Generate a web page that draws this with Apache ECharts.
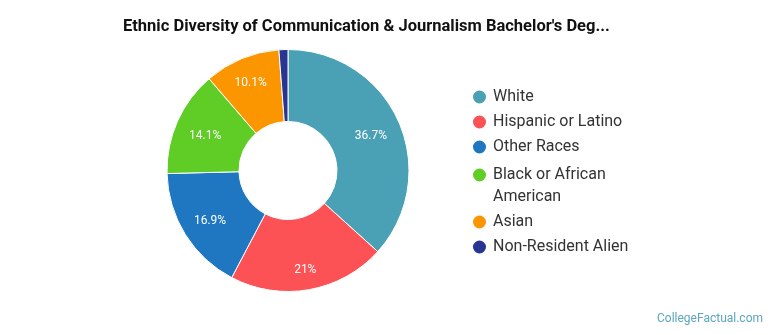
<!DOCTYPE html>
<html>
<head>
<meta charset="utf-8">
<script src="https://cdn.jsdelivr.net/npm/echarts@6/dist/echarts.min.js"></script>
<style>
  html, body { margin: 0; padding: 0; background: #fff; }
  #chart { width: 770px; height: 335px; }
</style>
</head>
<body>
<div id="chart"></div>
<script>
// Ethnic breakdown of bachelor's degree recipients (percent)
const categories = ['White', 'Hispanic or Latino', 'Other Races', 'Black or African American', 'Asian', 'Non-Resident Alien'];
const shares = [36.7, 21, 16.9, 14.1, 10.1, 1.2];
const percentLabels = ['36.7%', '21%', '16.9%', '14.1%', '10.1%', ''];
// legend wording; a leading blank line keeps a wrapped label's first line level with its icon
const legendNames = ['White', 'Hispanic or Latino', 'Other Races', '\nBlack or African\nAmerican', 'Asian', 'Non-Resident Alien'];
const sliceColors = ['#4aa0b5', '#fd5255', '#1f76c1', '#5fcd26', '#fb9500', '#283593'];

const CX = 288, CY = 170.5;

const chart = echarts.init(document.getElementById('chart'), null, { renderer: 'canvas' });

const pieData = categories.map((name, i) => ({
  name: name,
  value: shares[i],
  label: { formatter: percentLabels[i] }
}));

const legendText = {
  fontFamily: 'Roboto', fontSize: 16, color: '#333', lineHeight: 22
};

const legendItems = (from, to) => categories.slice(from, to).map(name => ({ name: name, icon: 'circle' }));
const legendLabel = name => legendNames[categories.indexOf(name)];

function legendBlock(top, from, to) {
  return {
    orient: 'vertical', left: 471, top: top, padding: 0, itemGap: 3,
    itemWidth: 17, itemHeight: 15, selectedMode: false,
    data: legendItems(from, to), formatter: legendLabel, textStyle: legendText
  };
}

chart.setOption({
  animation: false,
  title: [
    {
      text: "Ethnic Diversity of Communication & Journalism Bachelor's Deg...",
      left: 123, top: 18, padding: 0,
      textStyle: { fontFamily: 'Roboto', fontSize: 16.5, fontWeight: 'bold', color: '#111' }
    },
    {
      text: 'CollegeFactual.com',
      right: 7, top: 313, padding: 0,
      textStyle: { fontFamily: 'Roboto', fontSize: 12, fontWeight: 'normal', color: '#5ba7c0' }
    }
  ],
  legend: [
    legendBlock(86, 0, 3),
    legendBlock(142, 3, 6)
  ],
  series: [{
    type: 'pie',
    center: [CX, CY],
    radius: [49, 121],
    startAngle: 90,
    clockwise: true,
    color: sliceColors,
    avoidLabelOverlap: false,
    itemStyle: { borderColor: '#fff', borderWidth: 1 },
    label: {
      show: true, position: 'inside',
      fontFamily: 'Roboto', fontSize: 12, color: '#fff'
    },
    labelLine: { show: false },
    emphasis: { disabled: true },
    labelLayout: function (params) {
      const r = params.labelRect;
      const lx = r.x + r.width / 2, ly = r.y + r.height / 2;
      const dx = lx - CX, dy = ly - CY;
      const d = Math.sqrt(dx * dx + dy * dy) || 1;
      const c = dy / d;
      const dist = 89 + 10 * c * c;
      return { x: CX + dx / d * dist, y: CY + dy / d * dist + 2.5 };
    },
    data: pieData
  }]
});
</script>
</body>
</html>
